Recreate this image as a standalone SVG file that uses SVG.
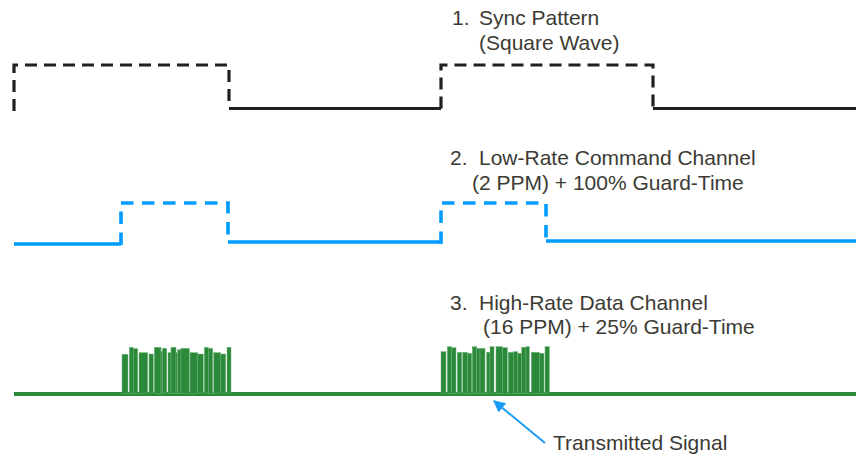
<svg xmlns="http://www.w3.org/2000/svg" width="856" height="457" viewBox="0 0 856 457">
<defs>
<style>
.lbl{font-family:"Liberation Sans",Arial,sans-serif;font-size:21px;fill:#3b3b34}
.blk{fill:none;stroke:#231f20;stroke-width:3.2}
.blkd{fill:none;stroke:#231f20;stroke-width:3.2;stroke-dasharray:12 7}
.blu{fill:none;stroke:#009cff;stroke-width:3.6}
.blud{fill:none;stroke:#009cff;stroke-width:3.6;stroke-dasharray:12.5 8.5}
.grn{fill:none;stroke:#2b8a3a;stroke-width:4.2}
.bar{fill:#2b8a3a;stroke:#6fb07a;stroke-width:0.5}
</style>
<marker id="ah" viewBox="0 0 10 10" refX="9" refY="5" markerWidth="7" markerHeight="6" markerUnits="strokeWidth" orient="auto">
<path d="M0,0 L10,5 L0,10 z" fill="#1a9bf5"/>
</marker>
</defs>
<rect width="856" height="457" fill="#ffffff"/>

<g id="sync-wave">
<path class="blkd" d="M14,111 V65 H229 V108"/>
<path class="blk" d="M229,108.5 H441"/>
<path class="blkd" d="M441,108.5 V65 H653 V108"/>
<path class="blk" d="M653,108.5 H856"/>
</g>

<g id="command-wave">
<path class="blu" d="M14,244 H121"/>
<path class="blud" d="M121,245 V203 H228 V242"/>
<path class="blu" d="M228,242 H441"/>
<path class="blud" d="M441,244 V203 H546 V241"/>
<path class="blu" d="M546,241 H856"/>
</g>

<g id="data-wave">
<path class="grn" d="M14,394 H856"/>
<g id="burst-1">
<rect class="bar" x="122" y="354.3" width="6" height="39"/>
<rect class="bar" x="129.3" y="347.3" width="4" height="46"/>
<rect class="bar" x="133.3" y="348.7" width="4.4" height="45"/>
<rect class="bar" x="139" y="352.7" width="8.7" height="41"/>
<rect class="bar" x="149" y="354" width="4.3" height="39"/>
<rect class="bar" x="154.3" y="347.3" width="6.7" height="46"/>
<rect class="bar" x="161" y="351.7" width="1.4" height="42"/>
<rect class="bar" x="162.4" y="348.3" width="4.3" height="45"/>
<rect class="bar" x="168" y="352.7" width="3" height="41"/>
<rect class="bar" x="171" y="347.3" width="5" height="46"/>
<rect class="bar" x="176" y="352.7" width="1.7" height="41"/>
<rect class="bar" x="177.7" y="349.7" width="3.3" height="44"/>
<rect class="bar" x="181" y="348.3" width="8.3" height="45"/>
<rect class="bar" x="190" y="352.7" width="7.7" height="41"/>
<rect class="bar" x="197.7" y="354" width="5.6" height="39"/>
<rect class="bar" x="204.3" y="347.3" width="4" height="46"/>
<rect class="bar" x="208.3" y="348.3" width="4.4" height="45"/>
<rect class="bar" x="213.7" y="352.7" width="7" height="41"/>
<rect class="bar" x="220.7" y="354" width="5" height="39"/>
<rect class="bar" x="227" y="347.3" width="4" height="46"/>
</g>
<g id="burst-2">
<rect class="bar" x="441" y="351.7" width="5" height="42"/>
<rect class="bar" x="447.3" y="346.7" width="4.4" height="47"/>
<rect class="bar" x="451.7" y="347.7" width="4.3" height="46"/>
<rect class="bar" x="457.3" y="352.3" width="4.4" height="41"/>
<rect class="bar" x="462.7" y="352.3" width="5" height="41"/>
<rect class="bar" x="467.7" y="353.3" width="4" height="40"/>
<rect class="bar" x="472.3" y="346.7" width="4.4" height="47"/>
<rect class="bar" x="476.7" y="348.3" width="3.3" height="45"/>
<rect class="bar" x="480" y="348.3" width="5" height="45"/>
<rect class="bar" x="486.7" y="352.3" width="3.3" height="41"/>
<rect class="bar" x="490" y="346.7" width="4" height="47"/>
<rect class="bar" x="496" y="346.7" width="6.7" height="47"/>
<rect class="bar" x="502.7" y="347.7" width="4.6" height="46"/>
<rect class="bar" x="508.3" y="352.3" width="5" height="41"/>
<rect class="bar" x="513.3" y="351.7" width="4.4" height="42"/>
<rect class="bar" x="517.7" y="353.3" width="4" height="40"/>
<rect class="bar" x="521.7" y="347.3" width="4.3" height="46"/>
<rect class="bar" x="526" y="346.7" width="3.3" height="47"/>
<rect class="bar" x="531.3" y="352.3" width="8" height="41"/>
<rect class="bar" x="539.3" y="353.3" width="4.7" height="40"/>
<rect class="bar" x="545" y="346.7" width="4.3" height="47"/>
</g>
</g>

<g id="label-sync">
<text class="lbl" x="452" y="25">1.</text>
<text class="lbl" x="479" y="25">Sync Pattern</text>
<text class="lbl" x="479" y="50">(Square Wave)</text>
</g>
<g id="label-command">
<text class="lbl" x="450" y="165">2.</text>
<text class="lbl" x="479" y="165">Low-Rate Command Channel</text>
<text class="lbl" x="472" y="190">(2 PPM) + 100% Guard-Time</text>
</g>
<g id="label-data">
<text class="lbl" x="450" y="310">3.</text>
<text class="lbl" x="479" y="310">High-Rate Data Channel</text>
<text class="lbl" x="483" y="334">(16 PPM) + 25% Guard-Time</text>
</g>
<g id="label-signal">
<text class="lbl" x="553" y="450">Transmitted Signal</text>
</g>

<g id="connectors">
<path d="M545,443 L494,401" fill="none" stroke="#1a9bf5" stroke-width="2" marker-end="url(#ah)"/>
</g>
</svg>
